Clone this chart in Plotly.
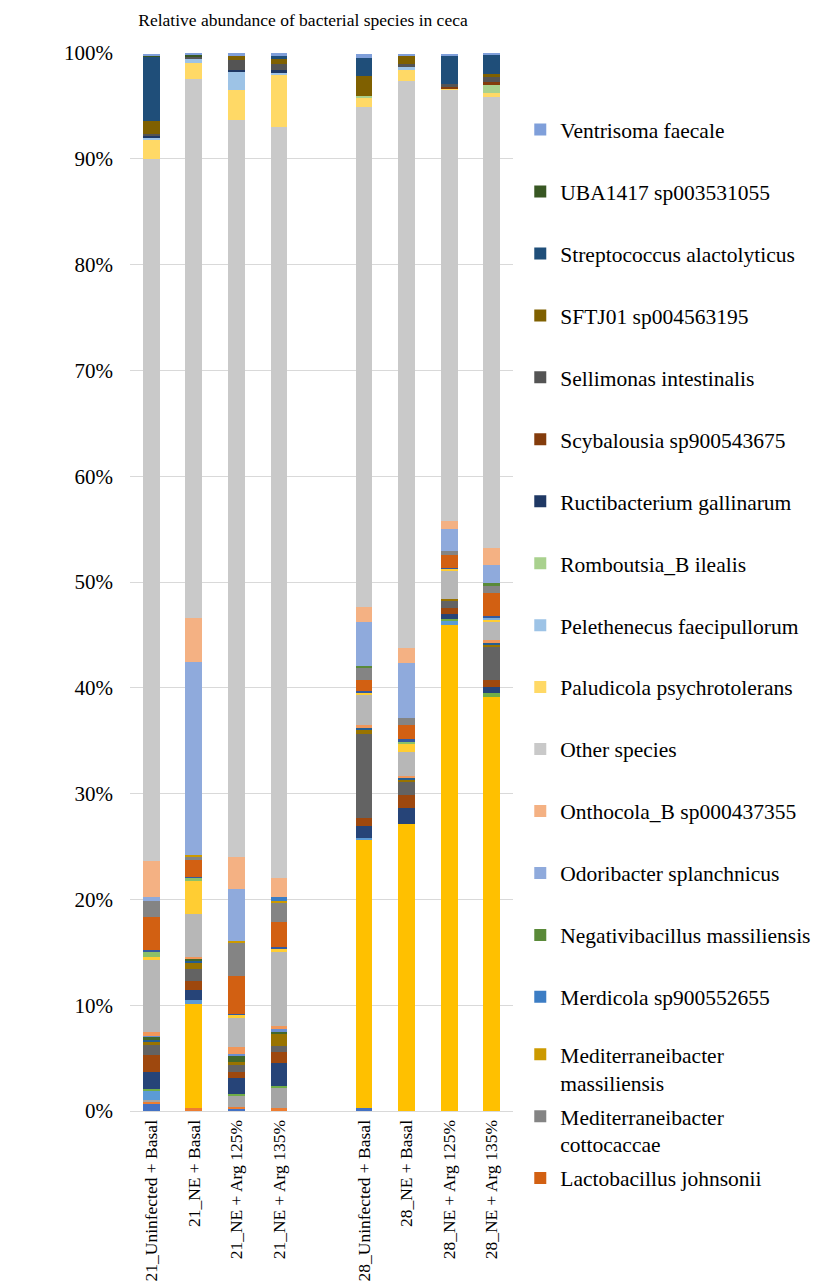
import plotly.graph_objects as go

# --- Categories (x axis) ---
# the empty string keeps the gap between the day-21 and day-28 groups
groups = [
    "21_Uninfected + Basal",
    "21_NE + Basal",
    "21_NE + Arg 125%",
    "21_NE + Arg 135%",
    " ",
    "28_Uninfected + Basal",
    "28_NE + Basal",
    "28_NE + Arg 125%",
    "28_NE + Arg 135%",
]

# --- Species, stacked bottom -> top (alphabetical, as in the source sheet) ---
# The first 19 legend entries fall below the visible picture, so their names
# are unknown; they are kept as placeholders and left out of the legend.
hidden_species = [f"Species {i:02d}" for i in range(1, 20)]
shown_species = [
    "Lactobacillus johnsonii",
    "Mediterraneibacter<br>cottocaccae",
    "Mediterraneibacter<br>massiliensis",
    "Merdicola sp900552655",
    "Negativibacillus massiliensis",
    "Odoribacter splanchnicus",
    "Onthocola_B sp000437355",
    "Other species",
    "Paludicola psychrotolerans",
    "Pelethenecus faecipullorum",
    "Romboutsia_B ilealis",
    "Ructibacterium gallinarum",
    "Scybalousia sp900543675",
    "Sellimonas intestinalis",
    "SFTJ01 sp004563195",
    "Streptococcus alactolyticus",
    "UBA1417 sp003531055",
    "Ventrisoma faecale",
]
species = hidden_species + shown_species

# Excel's default chart colour cycle
colors = [
    "#4472C4", "#ED7D31", "#A5A5A5", "#FFC000", "#5B9BD5", "#70AD47",
    "#264478", "#9E480E", "#636363", "#997300", "#255E91", "#43682B",
    "#698ED0", "#F1975A", "#B7B7B7", "#FFCD33", "#7CAFDD", "#8CC168",
    "#335AA1", "#D26012", "#848484", "#CC9A00", "#3C7DC4", "#5A8A39",
    "#8FAADC", "#F4B183", "#C9C9C9", "#FFD966", "#9DC3E6", "#A9D18E",
    "#1F3864", "#843C0C", "#545454", "#7F6000", "#1F4E79", "#385723",
    "#7F9FDA",
]

# --- Relative abundance (%) per sample, one value per species (same order) ---
d21_uninfected = [0.7, 0.15, 0.2, 0, 0.9, 0.15, 1.6, 1.6, 0.9, 0.35, 0.2, 0.3,
                  0.05, 0.4, 6.8, 0.25, 0, 0.47, 0.2, 3.15, 1.5, 0, 0, 0,
                  0.38, 3.4, 66.3, 1.8, 0.25, 0, 0.2, 0, 0.1, 1.26, 6.08, 0.15, 0.15]
d21_ne_basal = [0, 0.3, 0, 9.85, 0.3, 0, 1.0, 0.88, 1.07, 0.63, 0.15, 0.2,
                0, 0.2, 4.0, 3.2, 0, 0.25, 0.12, 1.6, 0.3, 0.15, 0, 0,
                18.27, 4.1, 51.0, 1.5, 0.4, 0, 0, 0, 0.2, 0, 0, 0.15, 0.1]
d21_ne_arg125 = [0.25, 0.15, 1.0, 0, 0, 0.2, 1.54, 0.54, 0.63, 0.3, 0, 0.57,
                 0.25, 0.63, 2.74, 0.28, 0, 0, 0.12, 3.6, 3.09, 0.2, 0, 0,
                 4.85, 3.09, 69.67, 2.84, 1.73, 0, 0.1, 0, 0.95, 0.44, 0, 0, 0.25]
d21_ne_arg135 = [0, 0.25, 1.92, 0, 0, 0.2, 2.14, 1.07, 0.57, 1.1, 0, 0.22,
                 0.25, 0.3, 7.05, 0.3, 0, 0, 0.1, 2.43, 1.73, 0.22, 0.4, 0,
                 0, 1.73, 71.0, 4.95, 0.22, 0, 0.2, 0, 0.6, 0.57, 0.15, 0, 0.33]
gap = [0] * 37
d28_uninfected = [0.3, 0, 0, 25.35, 0.15, 0, 1.17, 0.72, 7.97, 0.38, 0.2, 0,
                  0, 0.2, 2.84, 0.25, 0, 0, 0.15, 1.04, 1.17, 0, 0, 0.15,
                  4.19, 1.39, 47.3, 0.88, 0, 0.1, 0, 0, 0, 1.89, 1.76, 0, 0.38]
d28_ne_basal = [0, 0, 0, 27.1, 0, 0, 1.58, 1.17, 1.26, 0.15, 0.22, 0,
                0, 0.15, 2.3, 0.72, 0, 0.22, 0.3, 1.32, 0.63, 0, 0, 0,
                5.2, 1.42, 53.6, 1.07, 0.25, 0, 0, 0, 0.32, 0.7, 0, 0, 0.25]
d28_ne_arg125 = [0, 0, 0, 45.9, 0.47, 0.15, 0.47, 0.57, 0.7, 0.1, 0, 0,
                 0, 0, 2.74, 0.13, 0, 0, 0.13, 1.16, 0.45, 0, 0, 0,
                 2.06, 0.73, 40.78, 0.15, 0, 0, 0, 0.1, 0.3, 0, 2.68, 0, 0.15]
d28_ne_arg135 = [0, 0, 0, 39.1, 0, 0.38, 0.57, 0.7, 3.06, 0.32, 0.15, 0,
                 0, 0.2, 1.8, 0.15, 0.15, 0, 0.2, 2.15, 0.7, 0, 0, 0.25,
                 1.73, 1.64, 42.62, 0.32, 0, 0.79, 0, 0.32, 0.47, 0.22, 1.83, 0, 0.15]

samples = [d21_uninfected, d21_ne_basal, d21_ne_arg125, d21_ne_arg135, gap,
           d28_uninfected, d28_ne_basal, d28_ne_arg125, d28_ne_arg135]

FONT = "Liberation Serif, Times New Roman, serif"
n_hidden = len(hidden_species)
n_two_line_block = 3  # the last three legend rows (two-line names) sit closer

# The page body has an 8 px default margin, so the figure is drawn 8 px smaller
W, H = 815, 1277

fig = go.Figure()
for i, name in enumerate(species):
    # Lactobacillus + both Mediterraneibacter go to a second, tighter legend
    which = "legend2" if n_hidden <= i < n_hidden + n_two_line_block else "legend"
    fig.add_trace(
        go.Bar(
            x=groups,
            y=[s[i] for s in samples],
            name=name,
            marker=dict(color=colors[i], line=dict(width=0)),
            showlegend=i >= n_hidden,
            legend=which,
            legendgroup=f"g{i}",  # one group per trace so tracegroupgap spaces them
            legendrank=100 - i,   # top of the stack first, like Excel
            hovertemplate="%{x}<br>" + name.replace("<br>", " ") + ": %{y:.2f}%<extra></extra>",
        )
    )

legend_common = dict(
    x=1.019, xanchor="left",
    yanchor="top",
    traceorder="grouped",
    valign="top",
    font=dict(family=FONT, size=21.5, color="#000000"),
    bgcolor="rgba(0,0,0,0)",
)

fig.update_layout(
    barmode="stack",
    bargap=0.607,
    width=W,
    height=H,
    # autoexpand off: the legend runs to the right edge, like the original
    margin=dict(l=122, r=310, t=45, b=174, autoexpand=False),
    paper_bgcolor="white",
    plot_bgcolor="white",
    font=dict(family=FONT, color="#000000", size=20),
    title=dict(
        text="Relative abundance of bacterial species in ceca",
        x=295 / W, xref="container", xanchor="center",
        y=1 - 12 / H, yanchor="middle",
        font=dict(family=FONT, size=17.5, color="#000000"),
    ),
    legend=dict(legend_common, y=0.947, tracegroupgap=31),
    legend2=dict(legend_common, y=0.073, tracegroupgap=3),
)

fig.update_xaxes(
    type="category",
    tickangle=-90,
    automargin=False,
    showgrid=False,
    showline=True,
    linecolor="#D9D9D9",
    linewidth=1,
    ticks="",
    ticklabelstandoff=1,
    tickfont=dict(family=FONT, size=17.5, color="#000000"),
)
fig.update_yaxes(
    range=[0, 100],
    dtick=10,
    ticksuffix="%",
    automargin=False,
    showgrid=True,
    gridcolor="#D9D9D9",
    gridwidth=1,
    zeroline=False,
    showline=False,
    ticks="",
    ticklabelstandoff=16,
    tickfont=dict(family=FONT, size=21, color="#000000"),
)

fig.write_html("out.html")
